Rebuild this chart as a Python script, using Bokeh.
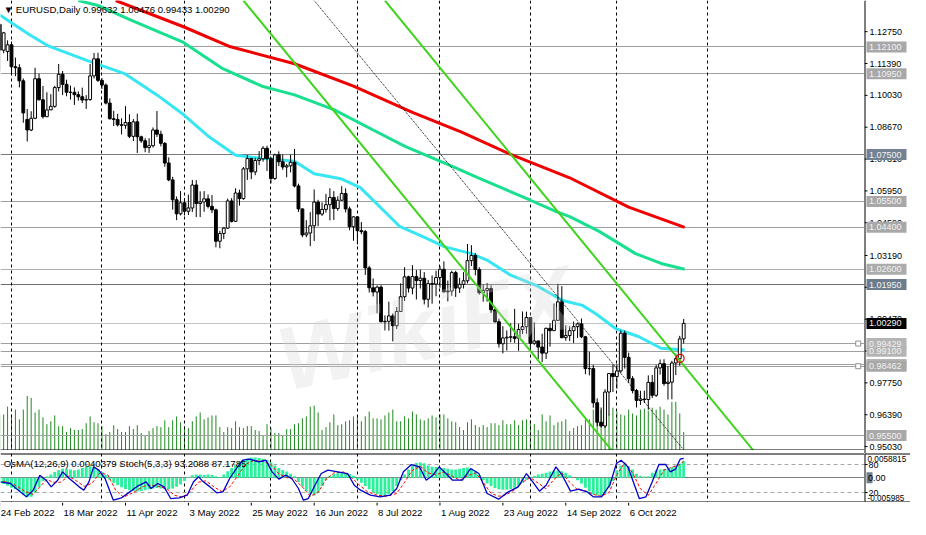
from bokeh.plotting import figure
from bokeh.models import ColumnDataSource, Range1d, Label
from bokeh.layouts import column, row
from bokeh.embed import file_html
from bokeh.resources import INLINE
from bokeh.core.properties import value

FONT = "Liberation Sans"

# EURUSD daily bars, 24 Feb 2022 .. 26 Oct 2022 (bar index = position)
opens = [
    1.1306, 1.1196, 1.1190, 1.1219, 1.1125, 1.1121, 1.1065, 1.0900, 1.0855, 1.0905,
    1.1074, 1.0984, 1.0912, 1.0941, 1.0956, 1.1036, 1.1093, 1.1050, 1.1016, 1.1016,
    1.1006, 1.0997, 1.0983, 1.0985, 1.1086, 1.1159, 1.1067, 1.1047, 1.0970, 1.0903,
    1.0900, 1.0877, 1.0875, 1.0887, 1.0828, 1.0890, 1.0826, 1.0809, 1.0780, 1.0788,
    1.0855, 1.0837, 1.0798, 1.0714, 1.0642, 1.0557, 1.0497, 1.0544, 1.0508, 1.0522,
    1.0620, 1.0541, 1.0548, 1.0561, 1.0529, 1.0514, 1.0380, 1.0413, 1.0436, 1.0552,
    1.0465, 1.0586, 1.0562, 1.0689, 1.0733, 1.0676, 1.0725, 1.0732, 1.0777, 1.0733,
    1.0648, 1.0749, 1.0719, 1.0697, 1.0702, 1.0717, 1.0616, 1.0518, 1.0407, 1.0415,
    1.0446, 1.0547, 1.0496, 1.0516, 1.0536, 1.0567, 1.0520, 1.0555, 1.0584, 1.0518,
    1.0442, 1.0484, 1.0425, 1.0421, 1.0266, 1.0181, 1.0163, 1.0184, 1.0036, 1.0038,
    1.0061, 1.0019, 1.0080, 1.0143, 1.0228, 1.0180, 1.0229, 1.0212, 1.0222, 1.0132,
    1.0199, 1.0197, 1.0225, 1.0260, 1.0164, 1.0167, 1.0246, 1.0180, 1.0196, 1.0211,
    1.0297, 1.0319, 1.0259, 1.0160, 1.0170, 1.0178, 1.0087, 1.0036, 0.9942, 0.9967,
    0.9970, 0.9972, 0.9965, 1.0003, 1.0015, 1.0054, 0.9944, 0.9954, 0.9928, 0.9902,
    1.0008, 0.9998, 1.0042, 1.0121, 0.9968, 0.9977, 0.9998, 1.0015, 1.0027, 0.9972,
    0.9836, 0.9836, 0.9690, 0.9607, 0.9591, 0.9736, 0.9815, 0.9802, 0.9826, 0.9987,
    0.9884, 0.9793, 0.9742, 0.9700, 0.9706, 0.9704, 0.9777, 0.9722, 0.9839, 0.9857,
    0.9772, 0.9778, 0.9860, 0.9878, 0.9963]
highs = [
    1.1311, 1.1274, 1.1238, 1.1233, 1.1164, 1.1136, 1.1075, 1.0945, 1.0935, 1.1121,
    1.1096, 1.1043, 1.1016, 1.1008, 1.1044, 1.1137, 1.1107, 1.1070, 1.1045, 1.1037,
    1.1020, 1.1036, 1.1004, 1.1137, 1.1184, 1.1185, 1.1076, 1.1054, 1.0990, 1.0937,
    1.0924, 1.0905, 1.0957, 1.0922, 1.0902, 1.0925, 1.0831, 1.0820, 1.0820, 1.0866,
    1.0936, 1.0852, 1.0803, 1.0738, 1.0655, 1.0571, 1.0594, 1.0564, 1.0579, 1.0642,
    1.0641, 1.0593, 1.0594, 1.0580, 1.0577, 1.0519, 1.0424, 1.0440, 1.0562, 1.0564,
    1.0606, 1.0600, 1.0697, 1.0748, 1.0736, 1.0736, 1.0765, 1.0786, 1.0788, 1.0739,
    1.0754, 1.0764, 1.0750, 1.0711, 1.0749, 1.0774, 1.0626, 1.0520, 1.0470, 1.0504,
    1.0601, 1.0557, 1.0546, 1.0582, 1.0606, 1.0594, 1.0572, 1.0615, 1.0606, 1.0528,
    1.0486, 1.0486, 1.0462, 1.0428, 1.0275, 1.0221, 1.0191, 1.0192, 1.0063, 1.0122,
    1.0071, 1.0099, 1.0200, 1.0269, 1.0233, 1.0278, 1.0257, 1.0259, 1.0248, 1.0215,
    1.0234, 1.0254, 1.0274, 1.0294, 1.0212, 1.0254, 1.0254, 1.0224, 1.0248, 1.0368,
    1.0363, 1.0330, 1.0269, 1.0196, 1.0202, 1.0192, 1.0096, 1.0049, 1.0017, 0.9999,
    1.0029, 1.0091, 1.0028, 1.0080, 1.0079, 1.0055, 1.0033, 0.9955, 0.9985, 1.0011,
    1.0030, 1.0114, 1.0198, 1.0188, 1.0021, 1.0017, 1.0037, 1.0033, 1.0050, 0.9976,
    0.9908, 0.9852, 0.9709, 0.9670, 0.9748, 0.9817, 0.9853, 0.9854, 0.9999, 0.9998,
    0.9904, 0.9804, 0.9749, 0.9741, 0.9742, 0.9807, 0.9809, 0.9852, 0.9875, 0.9876,
    0.9847, 0.9869, 0.9900, 0.9976, 1.0048]
lows = [
    1.1106, 1.1183, 1.1150, 1.1089, 1.1085, 1.1037, 1.0886, 1.0806, 1.0850, 1.0901,
    1.0981, 1.0904, 1.0910, 1.0940, 1.0950, 1.1020, 1.1004, 1.0999, 1.0985, 1.0962,
    1.0980, 1.0970, 1.0945, 1.0980, 1.1075, 1.1060, 1.1030, 1.0964, 1.0900, 1.0872,
    1.0870, 1.0836, 1.0860, 1.0820, 1.0808, 1.0757, 1.0800, 1.0760, 1.0757, 1.0780,
    1.0825, 1.0785, 1.0698, 1.0636, 1.0515, 1.0470, 1.0490, 1.0490, 1.0492, 1.0505,
    1.0483, 1.0483, 1.0506, 1.0520, 1.0500, 1.0354, 1.0350, 1.0389, 1.0432, 1.0460,
    1.0462, 1.0532, 1.0557, 1.0642, 1.0645, 1.0662, 1.0705, 1.0720, 1.0680, 1.0627,
    1.0642, 1.0701, 1.0685, 1.0653, 1.0674, 1.0610, 1.0505, 1.0397, 1.0397, 1.0359,
    1.0381, 1.0444, 1.0488, 1.0502, 1.0469, 1.0471, 1.0510, 1.0552, 1.0503, 1.0427,
    1.0382, 1.0366, 1.0410, 1.0236, 1.0161, 1.0144, 1.0072, 1.0033, 0.9999, 0.9998,
    0.9952, 1.0005, 1.0079, 1.0125, 1.0161, 1.0153, 1.0131, 1.0178, 1.0110, 1.0097,
    1.0113, 1.0145, 1.0181, 1.0161, 1.0123, 1.0147, 1.0142, 1.0159, 1.0178, 1.0200,
    1.0274, 1.0234, 1.0152, 1.0122, 1.0122, 1.0073, 1.0033, 0.9926, 0.9901, 0.9913,
    0.9948, 0.9946, 0.9912, 0.9984, 0.9985, 0.9910, 0.9937, 0.9877, 0.9864, 0.9877,
    0.9930, 0.9998, 1.0042, 0.9966, 0.9955, 0.9954, 0.9945, 0.9967, 0.9966, 0.9812,
    0.9807, 0.9669, 0.9590, 0.9585, 0.9582, 0.9636, 0.9736, 0.9750, 0.9817, 0.9836,
    0.9775, 0.9730, 0.9670, 0.9681, 0.9689, 0.9660, 0.9710, 0.9715, 0.9810, 0.9763,
    0.9704, 0.9705, 0.9808, 0.9848, 0.9943]
closes = [
    1.1196, 1.1270, 1.1219, 1.1125, 1.1121, 1.1065, 1.0928, 1.0855, 1.0905, 1.1074,
    1.0984, 1.0912, 1.0941, 1.0956, 1.1036, 1.1093, 1.1050, 1.1016, 1.1016, 1.1006,
    1.0997, 1.0983, 1.0985, 1.1086, 1.1159, 1.1067, 1.1047, 1.0970, 1.0903, 1.0900,
    1.0877, 1.0875, 1.0887, 1.0828, 1.0890, 1.0826, 1.0809, 1.0780, 1.0788, 1.0855,
    1.0837, 1.0798, 1.0714, 1.0642, 1.0557, 1.0497, 1.0544, 1.0508, 1.0522, 1.0620,
    1.0541, 1.0548, 1.0561, 1.0529, 1.0514, 1.0380, 1.0413, 1.0436, 1.0552, 1.0465,
    1.0586, 1.0562, 1.0689, 1.0733, 1.0676, 1.0725, 1.0732, 1.0777, 1.0733, 1.0648,
    1.0749, 1.0719, 1.0697, 1.0702, 1.0717, 1.0616, 1.0518, 1.0407, 1.0415, 1.0446,
    1.0547, 1.0496, 1.0516, 1.0536, 1.0567, 1.0520, 1.0555, 1.0584, 1.0518, 1.0442,
    1.0484, 1.0425, 1.0421, 1.0266, 1.0181, 1.0163, 1.0184, 1.0036, 1.0038, 1.0061,
    1.0019, 1.0080, 1.0143, 1.0228, 1.0180, 1.0229, 1.0212, 1.0222, 1.0132, 1.0199,
    1.0197, 1.0225, 1.0260, 1.0164, 1.0167, 1.0246, 1.0180, 1.0196, 1.0211, 1.0297,
    1.0319, 1.0259, 1.0160, 1.0170, 1.0178, 1.0087, 1.0036, 0.9942, 0.9967, 0.9970,
    0.9972, 0.9965, 1.0003, 1.0015, 1.0054, 0.9944, 0.9954, 0.9928, 0.9902, 1.0008,
    0.9998, 1.0042, 1.0121, 0.9968, 0.9977, 0.9998, 1.0015, 1.0027, 0.9972, 0.9836,
    0.9836, 0.9690, 0.9607, 0.9591, 0.9736, 0.9815, 0.9802, 0.9826, 0.9987, 0.9884,
    0.9793, 0.9742, 0.9700, 0.9706, 0.9704, 0.9777, 0.9722, 0.9839, 0.9857, 0.9772,
    0.9778, 0.9860, 0.9878, 0.9963, 1.0029]

# tick volume, drawn at the foot of the price window
volumes = [
    37, 37, 45, 37, 42, 32, 42, 56, 54, 39, 42, 34, 27, 30, 36, 25, 25, 19, 23, 21,
    21, 22, 28, 35, 29, 28, 25, 17, 19, 26, 22, 19, 19, 25, 22, 26, 18, 15, 20, 23,
    25, 24, 31, 24, 31, 35, 29, 25, 23, 30, 35, 39, 32, 34, 36, 36, 24, 19, 24, 23,
    30, 24, 23, 25, 25, 21, 20, 15, 27, 23, 18, 18, 15, 22, 22, 27, 28, 33, 35, 45,
    46, 39, 21, 24, 29, 37, 26, 27, 30, 31, 35, 36, 30, 35, 40, 33, 33, 32, 36, 39,
    42, 30, 30, 35, 33, 40, 37, 32, 31, 33, 36, 34, 37, 37, 33, 30, 29, 24, 21, 29,
    32, 26, 24, 26, 24, 28, 28, 26, 31, 27, 27, 31, 26, 31, 32, 31, 27, 21, 37, 30,
    36, 26, 29, 30, 32, 20, 23, 25, 26, 32, 32, 42, 44, 42, 44, 37, 44, 40, 37, 36,
    42, 38, 36, 42, 43, 41, 44, 42, 45, 42, 37, 50, 50, 38, 19]

# OsMA(12,26,9) histogram
osma = [
    -0.0012, -0.0015, -0.0019, -0.0024, -0.0028, -0.0032, -0.0040, -0.0047, -0.0046, -0.0036,
    -0.0022, -0.0008, 0.0003, 0.0008, 0.0014, 0.0019, 0.0022, 0.0021, 0.0020, 0.0018,
    0.0020, 0.0024, 0.0027, 0.0028, 0.0026, 0.0020, 0.0014, 0.0007, -0.0005, -0.0012,
    -0.0018, -0.0023, -0.0027, -0.0030, -0.0032, -0.0033, -0.0032, -0.0030, -0.0028, -0.0026,
    -0.0025, -0.0026, -0.0027, -0.0028, -0.0026, -0.0022, -0.0016, -0.0008, 0.0002, 0.0006,
    0.0008, 0.0008, 0.0007, 0.0008, 0.0007, 0.0004, 0.0002, 0.0008, 0.0016, 0.0024,
    0.0031, 0.0038, 0.0043, 0.0047, 0.0049, 0.0049, 0.0048, 0.0046, 0.0043, 0.0037,
    0.0030, 0.0024, 0.0019, 0.0015, 0.0010, 0.0004, -0.0010, -0.0022, -0.0032, -0.0040,
    -0.0043, -0.0036, -0.0020, -0.0006, 0.0004, 0.0009, 0.0011, 0.0012, 0.0011, 0.0009,
    0.0005, -0.0004, -0.0012, -0.0020, -0.0028, -0.0035, -0.0040, -0.0044, -0.0044, -0.0040,
    -0.0032, -0.0020, -0.0006, 0.0008, 0.0020, 0.0030, 0.0036, 0.0037, 0.0035, 0.0030,
    0.0027, 0.0026, 0.0025, 0.0024, 0.0022, 0.0020, 0.0020, 0.0022, 0.0024, 0.0025,
    0.0022, 0.0016, 0.0006, -0.0006, -0.0014, -0.0020, -0.0025, -0.0028, -0.0029, -0.0029,
    -0.0027, -0.0024, -0.0019, -0.0012, -0.0005, 0.0002, 0.0005, 0.0008, 0.0010, 0.0012,
    0.0015, 0.0017, 0.0018, 0.0016, 0.0012, 0.0006, 0.0000, -0.0006, -0.0014, -0.0024,
    -0.0033, -0.0040, -0.0043, -0.0044, -0.0038, -0.0024, -0.0008, 0.0018, 0.0030, 0.0032,
    0.0028, 0.0020, 0.0010, 0.0005, 0.0003, 0.0004, 0.0012, 0.0018, 0.0020, 0.0021,
    0.0022, 0.0026, 0.0030, 0.0034, 0.0040]

# Stochastic(5,3,3), main and signal, read at turning points
stoch_x = [0.2, 2.7, 5.2, 6.8, 8.5, 10.2, 11.8, 13.1, 14.75, 16, 17.7, 20.2, 21.4, 22.7,
           23.9, 25.2, 26.8, 28.9, 31, 33.1, 35.2, 37.25, 38.5, 40.2, 41.8, 43.5, 45.6,
           47.7, 49.3, 50.6, 51.8, 53.5, 55.2, 56.8, 58.5, 60.2, 61.8, 63.5, 66, 67.7,
           69.3, 71, 72.7, 74.3, 76, 77.25, 78.5, 80.2, 81.8, 83.5, 86, 88.5, 90.2, 91.8,
           94.3, 96.8, 99.3, 101, 102.7, 104.75, 106.8, 108.5, 110.2, 111.8, 113.5, 115.2,
           117.7, 119.8, 121.9, 124, 126.9, 129.4, 131.9, 134, 135.6, 137.3, 139, 141.5,
           143.1, 145.2, 147.3, 149.4, 151, 153.1, 155.2, 156.9, 158.1, 159.8, 161.5,
           162.7, 164.4, 166, 167.7, 169.4, 170.6, 171.9, 173.1, 174]
stoch_main = [42.9, 39.3, 21.4, 10.7, 25, 57.1, 46.4, 32.1, 46.4, 64.3, 50, 32.1, 25, 42.9,
              75, 67.9, 50, 3.6, 8.6, 21.4, 34.3, 42.9, 28.6, 39.3, 32.1, 7.1, 8.6,
              14.3, 42.9, 53.6, 42.9, 32.1, 19.3, 21.4, 50, 71.4, 89.3, 91.4, 85.7, 89.3,
              64.3, 48.6, 57.1, 50, 28.6, 3.6, 7.1, 35.7, 60.7, 67.9, 64.3, 60.7, 35.7, 25,
              14.3, 10.7, 14.3, 28.6, 64.3, 80, 75, 46.4, 57.1, 75, 60.7, 46.4,
              46.4, 71.4, 60.7, 17.9, 5.7, 21.4, 32.1, 60.7, 42.9, 22.9, 35.7, 75,
              57.1, 22.9, 27.1, 21.4, 10.7, 10.7, 35.7, 82.1, 89.3, 75, 35.7,
              7.1, 10.7, 42.9, 80, 80.4, 64.3, 70, 91.4, 93.2]
signal_x = [1, 3.5, 6.5, 8.5, 10.5, 12, 13.5, 15.5, 17.5, 19.5, 21.5, 23.5, 25.5, 27.5,
            29.5, 31.5, 34, 36.5, 38.5, 40.5, 42.5, 44.5, 46.5, 48.5, 50.5, 52.5, 54.5,
            56.5, 58.5, 60.5, 62.5, 64.5, 67, 69, 71, 73, 75, 77, 79, 81, 83, 85, 87.5,
            89.5, 91.5, 93.5, 96, 98.5, 101, 103, 105, 107, 109, 111, 113, 115, 117, 119,
            121, 123, 125, 127, 129, 131, 133, 135, 137, 139, 141, 143, 145, 147, 149,
            151, 153, 155, 157, 159, 161, 163, 165, 167, 169, 171, 173, 174]
stoch_signal = [44, 38, 22, 16, 35, 48, 42, 42, 55, 45, 33, 40, 62, 58,
                25, 10, 20, 33, 36, 33, 28, 14, 10, 22, 42, 45, 32,
                22, 32, 55, 80, 88, 87, 80, 60, 52, 48, 32, 12, 20, 48, 62, 64,
                52, 36, 22, 14, 12, 18, 42, 68, 76, 62, 58, 64, 56, 46, 56,
                62, 42, 18, 12, 16, 26, 42, 52, 40, 28, 48, 62, 42, 26, 24,
                16, 12, 20, 58, 84, 62, 28, 14, 40, 68, 74, 80, 87.2]

# moving averages (bar, price)
ma_fast_x = [0, 7.5, 12.5, 22.5, 31.75, 40, 46.75, 53.25, 60, 66.75, 75, 80, 86.75, 91.75,
             96.75, 101.75, 107.5, 113.25, 120, 124.25, 130, 136.75, 143.25, 148.25,
             151.75, 156.75, 162.5, 168.25, 174.25]
ma_fast_y = [1.1346, 1.1263, 1.1213, 1.1150, 1.1096, 1.1005, 1.0921, 1.0826, 1.0747, 1.0734,
             1.0722, 1.0668, 1.0647, 1.0609, 1.0526, 1.0443, 1.0401, 1.0356, 1.0327, 1.0297,
             1.0235, 1.0189, 1.0127, 1.0106, 1.0069, 1.0006, 0.9973, 0.9923, 0.9915]
ma_mid_x = [20, 25, 33.25, 46.75, 56.75, 66.75, 75, 85, 95, 103.25, 115, 121.75, 135,
            141.75, 145, 152.5, 161.75, 168.25, 174.25]
ma_mid_y = [1.1408, 1.1387, 1.1325, 1.1229, 1.1117, 1.1042, 1.1005, 1.0942, 1.0855, 1.0784,
            1.0701, 1.0651, 1.0555, 1.0505, 1.0485, 1.0422, 1.0327, 1.0285, 1.0260]
ma_slow_x = [29.5, 46.75, 58.25, 75, 90, 105, 117.5, 130, 145, 160, 174.25]
ma_slow_y = [1.1408, 1.1296, 1.1213, 1.1138, 1.1042, 1.0930, 1.0846, 1.0751, 1.0651,
             1.0526, 1.0439]

# trend channel (bar, price)
chan_upper_x = [98, 191.75]
chan_upper_y = [1.1408, 0.9486]
chan_lower_x = [62, 155.75]
chan_lower_y = [1.1408, 0.9486]
chan_mid_x = [80, 173.75]
chan_mid_y = [1.1408, 0.9494]

levels = [1.1210, 1.1095, 1.0750, 1.0550, 1.0440, 1.0260, 1.0195, 1.0029,
          0.99429, 0.9910, 0.98462, 0.9550]
level_text = ["1.12100", "1.10950", "1.07500", "1.05500", "1.04400", "1.02600", "1.01950",
              "1.00290", "0.99429", "0.99100", "0.98462", "0.95500"]
level_line = ["#a0a0a0", "#a0a0a0", "#7a7a7a", "#a0a0a0", "#a0a0a0", "#b0b0b0", "#6e6e6e",
              "#c4c4c4", "#a0a0a0", "#a0a0a0", "#a0a0a0", "#a0a0a0"]
level_box = ["#a8a8a8", "#a8a8a8", "#728292", "#a8a8a8", "#a8a8a8", "#acacac", "#6c7c8c",
             "#000000", "#b4b4b4", "#b4b4b4", "#a8a8a8", "#a8a8a8"]
# second line just above 0.98462, its label mostly hidden
under_level = [0.9853]
under_text = ["0.98530"]

price_ticks = [1.1275, 1.1139, 1.1003, 1.0867, 1.0731, 1.0595, 1.0459, 1.0319,
               1.0183, 1.0047, 0.9911, 0.9775, 0.9639, 0.9503]
price_tick_text = ["1.12750", "1.11390", "1.10030", "1.08670", "1.07310", "1.05950",
                   "1.04590", "1.03190", "1.01830", "1.00470", "0.99110", "0.97750",
                   "0.96390", "0.95030"]

separators = [3, 26, 47, 69, 91, 112, 135, 157, 180]
date_ticks = [0, 16, 32, 48, 64, 80, 96, 112, 128, 144, 160]
date_labels = ["24 Feb 2022", "18 Mar 2022", "11 Apr 2022", "3 May 2022", "25 May 2022",
               "16 Jun 2022", "8 Jul 2022", "1 Aug 2022", "23 Aug 2022", "14 Sep 2022",
               "6 Oct 2022"]

alert_x = [173.1]
alert_y = [0.9880]
marker_x = [218.4, 218.4]
marker_y = [0.99429, 0.98462]

# window geometry
P_LO, P_HI = 0.94862, 1.14081
MAIN_H, IND_H, DATE_H, PLOT_W, SCALE_W, GAP = 450, 49, 17, 864, 46, 3
ST_LO, ST_HI = -1.4, 103.6
OS_LO, OS_HI = -0.005985, 0.0058815
TXT = value(FONT)

n = len(closes)
idx = list(range(n))
src = ColumnDataSource(dict(
    x=idx, o=opens, h=highs, l=lows, c=closes,
    top=[max(a, b) for a, b in zip(opens, closes)],
    bot=[min(a, b) for a, b in zip(opens, closes)],
    fill=["white" if c >= o else "black" for o, c in zip(opens, closes)],
    vol=volumes))

x_range = Range1d(0.2, 220.0)


def bare(**kw):
    f = figure(output_backend="svg", toolbar_location=None, tools="",
               x_axis_location=None, y_axis_location=None,
               min_border_left=0, min_border_right=0, min_border_bottom=0, **kw)
    f.grid.visible = False
    f.outline_line_color = None
    f.background_fill_color = "white"
    f.border_fill_color = "white"
    return f


# price window
p = bare(frame_width=PLOT_W, frame_height=MAIN_H, x_range=x_range,
         y_range=Range1d(P_LO, P_HI), min_border_top=0)
p.extra_y_ranges = {"vol": Range1d(0, 462)}

p.add_layout(Label(x=74, y=0.966, text="WikiFX", text_font=FONT, text_font_size="90px",
                   text_font_style="bold italic", text_color="#d4d4d4", text_alpha=0.3,
                   angle=0.22))

p.segment(x0="x", y0=0, x1="x", y1="vol", source=src, y_range_name="vol",
          line_color="#1f8a1f", line_width=1)
p.hspan(y=levels + under_level, line_color=level_line + ["#a0a0a0"], line_width=1)
p.vspan(x=separators, line_color="black", line_width=1, line_dash="3 3")

p.line(ma_mid_x, ma_mid_y, line_color="#19e08f", line_width=3)
p.line(ma_slow_x, ma_slow_y, line_color="#f00000", line_width=3)
p.line(ma_fast_x, ma_fast_y, line_color="#36e6f2", line_width=3)

p.segment(x0="x", y0="l", x1="x", y1="h", source=src, line_color="black", line_width=1)
p.vbar(x="x", top="top", bottom="bot", width=0.72, source=src, fill_color="fill",
       line_color="black", line_width=1)

p.line(chan_lower_x, chan_lower_y, line_color="#3fd41c", line_width=2)
p.line(chan_upper_x, chan_upper_y, line_color="#3fd41c", line_width=2)
p.line(chan_mid_x, chan_mid_y, line_color="black", line_width=1, line_dash="1 1")

p.scatter(alert_x, alert_y, marker="circle", size=8, fill_color=None,
          line_color="#e00000", line_width=1.2)
p.scatter(marker_x, marker_y, marker="square", size=5, fill_color="white",
          line_color="#909090")
p.hspan(y=[P_LO], line_color="black", line_width=2)

p.add_layout(Label(x=1.0, y=P_HI, y_offset=-3,
                   text="\u25bc EURUSD,Daily  0.99632 1.00476 0.99433 1.00290",
                   text_font=FONT, text_font_size="9.6px", text_color="black",
                   text_baseline="top", text_align="left"))

# price scale at the right, running a few pixels into the gap
upp = (P_HI - P_LO) / MAIN_H
s1 = bare(frame_width=SCALE_W, frame_height=MAIN_H + GAP, x_range=Range1d(0, SCALE_W),
          y_range=Range1d(P_LO - GAP * upp, P_HI), min_border_top=0)
s1.vspan(x=[0], line_color="black", line_width=2)
s1.segment(x0=0, y0=price_ticks, x1=3, y1=price_ticks, line_color="black", line_width=1)
s1.text(x=5, y=price_ticks, text=price_tick_text, text_font=TXT, text_font_size="9px",
        text_baseline="middle", text_align="left", text_color="black")
s1.rect(x=22, y=under_level, width=40, height=11, height_units="screen",
        fill_color="#b4b4b4", line_color=None)
s1.text(x=4.5, y=under_level, text=under_text, text_font=TXT, text_font_size="9px",
        text_baseline="middle", text_align="left", text_color="#f2f2f2")
s1.rect(x=22, y=levels, width=40, height=11, height_units="screen",
        fill_color=level_box, line_color=None)
s1.text(x=4.5, y=levels, text=level_text, text_font=TXT, text_font_size="9px",
        text_baseline="middle", text_align="left", text_color="#f2f2f2")

# indicator window
q = bare(frame_width=PLOT_W, frame_height=IND_H, x_range=x_range,
         y_range=Range1d(ST_LO, ST_HI), min_border_top=GAP)
q.extra_y_ranges = {"osma": Range1d(OS_LO, OS_HI)}

q.vspan(x=separators, line_color="black", line_width=1, line_dash="3 3")
q.hspan(y=[80, 20], line_color="#a8a8a8", line_width=1, line_dash="4 3")
q.hspan(y=[0], y_range_name="osma", line_color="#808080", line_width=1)
q.vbar(x=idx, top=osma, bottom=0, width=0.74, y_range_name="osma",
       fill_color="#2cf09c", line_color=None)
q.line(signal_x, stoch_signal, line_color="#ff0000", line_width=1, line_dash="3 2")
q.line(stoch_x, stoch_main, line_color="#0000c8", line_width=1.3)
q.hspan(y=[ST_LO, ST_HI], line_color="black", line_width=2)

q.add_layout(Label(x=1.0, y=ST_HI, y_offset=-4,
                   text="OsMA(12,26,9) 0.0040379  Stoch(5,3,3) 93.2088 87.1785",
                   text_font=FONT, text_font_size="9.6px", text_color="black",
                   text_baseline="top", text_align="left"))

s2 = bare(frame_width=SCALE_W, frame_height=IND_H, x_range=Range1d(0, SCALE_W),
          y_range=Range1d(ST_LO, ST_HI), min_border_top=0)
s2.extra_y_ranges = {"osma": Range1d(OS_LO, OS_HI)}
s2.vspan(x=[0], line_color="black", line_width=2)
s2.hspan(y=[ST_LO, ST_HI], line_color="black", line_width=2)
s2.segment(x0=0, y0=[80, 20], x1=3, y1=[80, 20], line_color="black", line_width=1)
s2.text(x=4, y=[80, 20], text=["80", "20"], text_font=TXT, text_font_size="9px",
        text_baseline="middle", text_align="left", text_color="black")
s2.text(x=3, y=[OS_HI], text=["0.0058815"], y_range_name="osma", y_offset=2,
        text_font=TXT, text_font_size="8.2px", text_baseline="top", text_color="black")
s2.text(x=3, y=[OS_LO], text=["-0.005985"], y_range_name="osma", y_offset=-2,
        text_font=TXT, text_font_size="8.2px", text_baseline="bottom", text_color="black")
s2.rect(x=5, y=[0], width=6, height=11, height_units="screen", y_range_name="osma",
        fill_color="#6c7c8c", line_color=None)
s2.text(x=3.5, y=[0], text=["0.00"], y_range_name="osma", text_font=TXT,
        text_font_size="9px", text_baseline="middle", text_color="black")

# date strip
d = bare(frame_width=PLOT_W, frame_height=DATE_H, x_range=x_range,
         y_range=Range1d(0, 1), min_border_top=0)
d.segment(x0=date_ticks, y0=1, x1=date_ticks, y1=0.82, line_color="black", line_width=1)
d.text(x=date_ticks, y=0.42, text=date_labels, x_offset=1, text_font=TXT,
       text_font_size="9.6px", text_baseline="middle", text_align="left",
       text_color="black")

layout = row(column(p, q, d, spacing=0), column(s1, s2, spacing=0), spacing=0)
open("out.html", "w").write(file_html(layout, INLINE))
